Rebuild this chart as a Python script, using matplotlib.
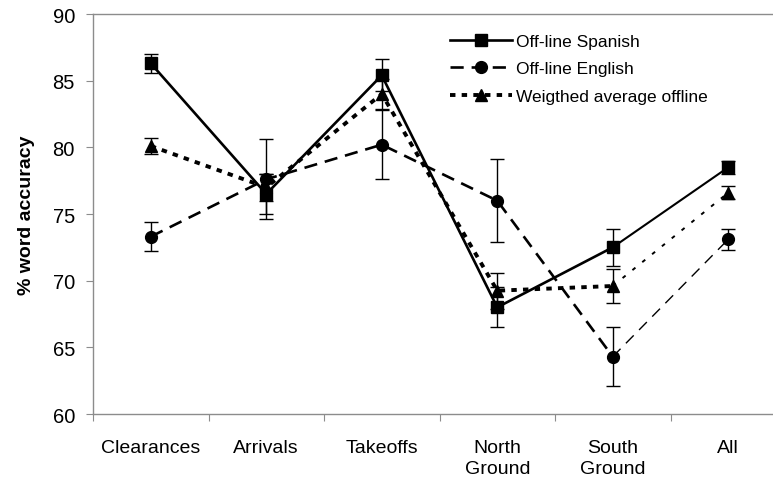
import matplotlib.pyplot as plt
from matplotlib.lines import Line2D
import numpy as np

plt.rcParams['font.family'] = ['Liberation Sans', 'DejaVu Sans']

categories = ["Clearances", "Arrivals", "Takeoffs", "North\nGround", "South\nGround", "All"]
spanish = [86.3, 76.5, 85.4, 68.0, 72.5, 78.5]
spanish_err = [0.7, 1.5, 1.2, 1.5, 1.4, 0.5]
english = [73.3, 77.6, 80.2, 76.0, 64.3, 73.1]
english_err = [1.07, 3.0, 2.6, 3.1, 2.2, 0.8]
weighted = [80.1, 77.0, 84.0, 69.25, 69.6, 76.6]
weighted_err = [0.6, 1.0, 1.1, 1.35, 1.3, 0.5]
labels = ["Off-line Spanish", "Off-line English", "Weigthed average offline"]

x = np.arange(len(categories)) + 0.5

fig = plt.figure(figsize=(7.73, 4.85), dpi=100)
ax = fig.add_axes([93 / 773, 1 - 415 / 485, 693 / 773, 400 / 485])

series = [spanish, english, weighted]
errs = [spanish_err, english_err, weighted_err]
markers = ['s', 'o', '^']
# thick style for the first segments, thin for the last one (South -> All)
thick = [dict(ls='-', lw=1.9),
         dict(ls=(0, (5.0, 3.0)), lw=1.9),
         dict(ls=(0, (1.4, 1.6)), lw=2.8)]
thin = [dict(ls='-', lw=1.5),
        dict(ls=(0, (8, 5.5)), lw=1.0),
        dict(ls=(0, (2, 4.5)), lw=1.4)]

handles = []
for i in range(3):
    y = np.array(series[i])
    ax.errorbar(x, y, yerr=errs[i], fmt='none', ecolor='black', elinewidth=1.0,
                capsize=5, capthick=1.0, zorder=2)
    ax.plot(x[:5], y[:5], color='black', zorder=3, **thick[i])
    ax.plot(x[4:], y[4:], color='black', zorder=3, **thin[i])
    ax.plot(x, y, ls='none', marker=markers[i], color='black', markersize=8.5, zorder=4)
    handles.append(Line2D([], [], color='black', marker=markers[i], markersize=8.5,
                          label=labels[i], **thick[i]))

ax.set_xlim(0, 6)
ax.set_ylim(60, 90)
ax.set_yticks(range(60, 91, 5))
ax.set_xticks(np.arange(0, 7))
ax.set_xticklabels([])
for xi, c in zip(x, categories):
    ax.text(xi, 58.1, c, ha='center', va='top', fontsize=14, linespacing=1.25)

ax.spines['right'].set_visible(False)
for s in ['left', 'bottom', 'top']:
    ax.spines[s].set_color('#8c8c8c')
    ax.spines[s].set_linewidth(1.0)
ax.tick_params(axis='both', direction='out', length=5, color='#8c8c8c', labelsize=14.5)
ax.tick_params(axis='y', pad=8)

ax.set_ylabel("% word accuracy", fontsize=14, fontweight='bold', labelpad=13)

ax.legend(handles=handles, loc='upper left', bbox_to_anchor=(0.492, 0.99), frameon=False,
          fontsize=12.5, handlelength=3.6, handletextpad=0.2, labelspacing=0.72)

fig.savefig("out.png", dpi=100)
